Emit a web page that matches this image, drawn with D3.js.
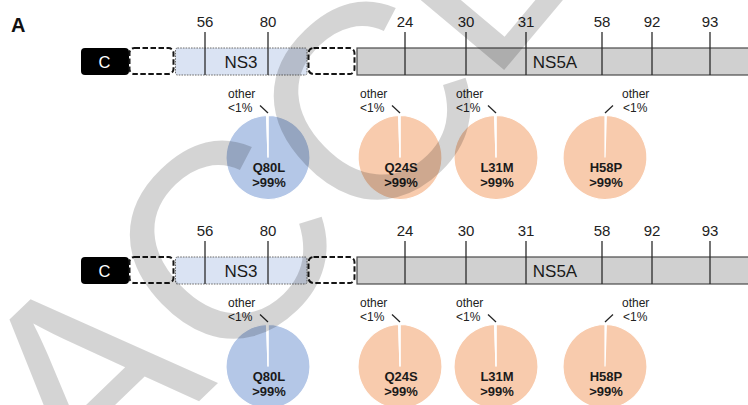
<!DOCTYPE html>
<html>
<head>
<meta charset="utf-8">
<script src="https://cdn.jsdelivr.net/npm/d3@7"></script>
<style>
  html, body { margin: 0; padding: 0; background: #fff; }
  svg { display: block; font-family: "Liberation Sans", Arial, Helvetica, sans-serif; }
</style>
</head>
<body>
<svg id="chart" width="748" height="405"></svg>
<script>
// ---- data -------------------------------------------------------------
// Polyprotein segments drawn on the schematic (unlabelled ones are elided regions)
const segments     = ["C", "", "NS3", "", "NS5A"];
const segmentKinds = ["core", "gap", "ns3", "gap", "ns5a"];

// Resistance-associated positions marked above each protein
const ns3Sites  = ["56", "80"];
const ns5aSites = ["24", "30", "31", "58", "92", "93"];

// Dominant variant found at a marked position and its frequency (%)
const variants       = ["Q80L", "Q24S", "L31M", "H58P"];
const variantProtein = ["NS3", "NS5A", "NS5A", "NS5A"];
const variantPct     = [99.5, 99.5, 99.5, 99.5];
const otherPct       = [0.5, 0.5, 0.5, 0.5];
const variantLabel   = [">99%", ">99%", ">99%", ">99%"];
const otherLabel     = ["<1%", "<1%", "<1%", "<1%"];

// The two samples, one schematic each
const samples = ["sample 1", "sample 2"];

// ---- layout -----------------------------------------------------------
const svg = d3.select("#chart");
const font = "'Liberation Sans', Arial, Helvetica, sans-serif";

// schematic track (not to scale): segment lengths in track units
const segLen = [47, 47, 132, 49, 400];
const segStart = Array.from(d3.cumsum([0, ...segLen]));
const track = d3.scaleLinear().domain([0, 675]).range([81, 756]);
const protStart = name => segStart[segments.indexOf(name)];

// slot of each marked site inside its protein (track units)
const siteSlot = {
  NS3:  d3.scaleOrdinal(ns3Sites, [30, 93]),
  NS5A: d3.scaleOrdinal(ns5aSites, [49, 110, 170, 246, 296, 354])
};
const sitesOf = { NS3: ns3Sites, NS5A: ns5aSites };
// slot of each variant pie inside its protein, and side of its "other" callout
const pieSlot   = d3.scaleOrdinal(variants, [93, 44, 140, 249]);
const labelSide = d3.scaleOrdinal(variants, [-1, -1, -1, 1]);

const rowY = d3.scaleOrdinal(samples, [0, 209]);
const fillOf = { core: "#000000", gap: "#ffffff", ns3: "#dae3f3", ns5a: "#d0d0d0" };
const pieColor = d3.scaleOrdinal(["NS3", "NS5A"], ["#b4c7e7", "#f8cbad"]);

const barTop = 48, barH = 27, tickTop = 32, tickLabelY = 27;
const pieCy = 157.5, pieR = 42;

// panel letter
svg.append("text")
  .attr("x", 11).attr("y", 32)
  .attr("font-size", 20).attr("font-weight", "bold").attr("fill", "#111")
  .text("A");

samples.forEach(sample => {
  const g = svg.append("g").attr("transform", `translate(0,${rowY(sample)})`);

  // protein boxes
  segments.forEach((name, i) => {
    const kind = segmentKinds[i];
    const x0 = track(segStart[i]), x1 = track(segStart[i + 1]);
    const r = g.append("rect")
      .attr("y", barTop).attr("height", barH)
      .attr("fill", fillOf[kind]);
    if (kind === "gap") {
      r.attr("x", x0 + 1.5).attr("width", x1 - x0 - 3)
        .attr("y", barTop).attr("height", barH - 1)
        .attr("rx", 5).attr("ry", 5)
        .attr("stroke", "#151515").attr("stroke-width", 2)
        .attr("stroke-dasharray", "5.5,2.5");
    } else if (kind === "core") {
      r.attr("x", x0).attr("width", x1 - x0 + 1).attr("rx", 4).attr("ry", 4);
    } else if (kind === "ns3") {
      r.attr("x", x0 + 0.5).attr("width", x1 - x0 - 0.5)
        .attr("rx", 2).attr("ry", 2)
        .attr("stroke", "#6a6a6a").attr("stroke-width", 1)
        .attr("stroke-dasharray", "1.6,1.1");
    } else {
      r.attr("x", x0 + 1).attr("width", x1 - x0)
        .attr("stroke", "#4a4a4a").attr("stroke-width", 1.2);
    }
  });

  // protein names
  [["C", "#ffffff", 16.5, 104.5], ["NS3", "#1a1a1a", 17, null], ["NS5A", "#1a1a1a", 17, 555]]
    .forEach(([name, col, size, cx]) => {
      const i = segments.indexOf(name);
      const mid = cx !== null ? cx : (track(segStart[i]) + track(segStart[i + 1])) / 2;
      g.append("text")
        .attr("x", mid).attr("y", barTop + 20)
        .attr("text-anchor", "middle")
        .attr("font-size", size).attr("fill", col)
        .text(name);
    });

  // site ticks and their residue numbers
  ["NS3", "NS5A"].forEach(prot => {
    sitesOf[prot].forEach(site => {
      const x = track(protStart(prot) + siteSlot[prot](site));
      g.append("line")
        .attr("x1", x).attr("x2", x)
        .attr("y1", tickTop).attr("y2", barTop + barH)
        .attr("stroke", "#2b2b2b").attr("stroke-width", 1.3);
      g.append("text")
        .attr("x", x).attr("y", tickLabelY)
        .attr("text-anchor", "middle")
        .attr("font-size", 15).attr("fill", "#222")
        .text(site);
    });
  });

  // variant frequency pies
  const arc = d3.arc().innerRadius(0).outerRadius(pieR);
  variants.forEach((v, i) => {
    const cx = track(protStart(variantProtein[i]) + pieSlot(v));
    const side = labelSide(v);
    const parts = side < 0
      ? [{ key: "major", value: variantPct[i] }, { key: "other", value: otherPct[i] }]
      : [{ key: "other", value: otherPct[i] }, { key: "major", value: variantPct[i] }];
    const slices = d3.pie().sort(null).value(d => d.value)(parts);
    const pg = g.append("g").attr("transform", `translate(${cx},${pieCy})`);
    pg.selectAll("path").data(slices).join("path")
      .attr("d", arc)
      .attr("fill", d => d.data.key === "major" ? pieColor(variantProtein[i]) : "#ffffff")
      .attr("stroke", "#ffffff").attr("stroke-width", 1.2);

    pg.append("text")
      .attr("x", 1).attr("y", 14.5)
      .attr("text-anchor", "middle").attr("font-size", 13).attr("font-weight", "bold")
      .attr("fill", "#1a1a1a").text(v);
    pg.append("text")
      .attr("x", 1).attr("y", 29.5)
      .attr("text-anchor", "middle").attr("font-size", 13).attr("font-weight", "bold")
      .attr("fill", "#1a1a1a").text(variantLabel[i]);

    // "other" callout with a short leader to the minor slice
    const top = -pieR;
    g.append("line")
      .attr("x1", cx + side * 8).attr("y1", pieCy + top - 10)
      .attr("x2", cx).attr("y2", pieCy + top - 2.5)
      .attr("stroke", "#222").attr("stroke-width", 1.2);
    const lx = side < 0 ? cx - 40 : cx + 17;
    g.append("text")
      .attr("x", lx).attr("y", pieCy + top - 18)
      .attr("font-size", 12).attr("fill", "#222").text("other");
    g.append("text")
      .attr("x", side < 0 ? lx : lx + 1).attr("y", pieCy + top - 4)
      .attr("font-size", 12).attr("fill", "#222").text(otherLabel[i]);
  });
});

// manuscript stamp across the figure
svg.append("text")
  .attr("transform", "translate(85.5,511) rotate(-44)")
  .attr("font-family", font)
  .attr("font-size", 277)
  .attr("fill", "#000").attr("fill-opacity", 0.17)
  .attr("dy", "0 0 0 -24")
  .attr("rotate", "0 0 0 -6")
  .style("pointer-events", "none")
  .text("ACCEPTED");
</script>
</body>
</html>
